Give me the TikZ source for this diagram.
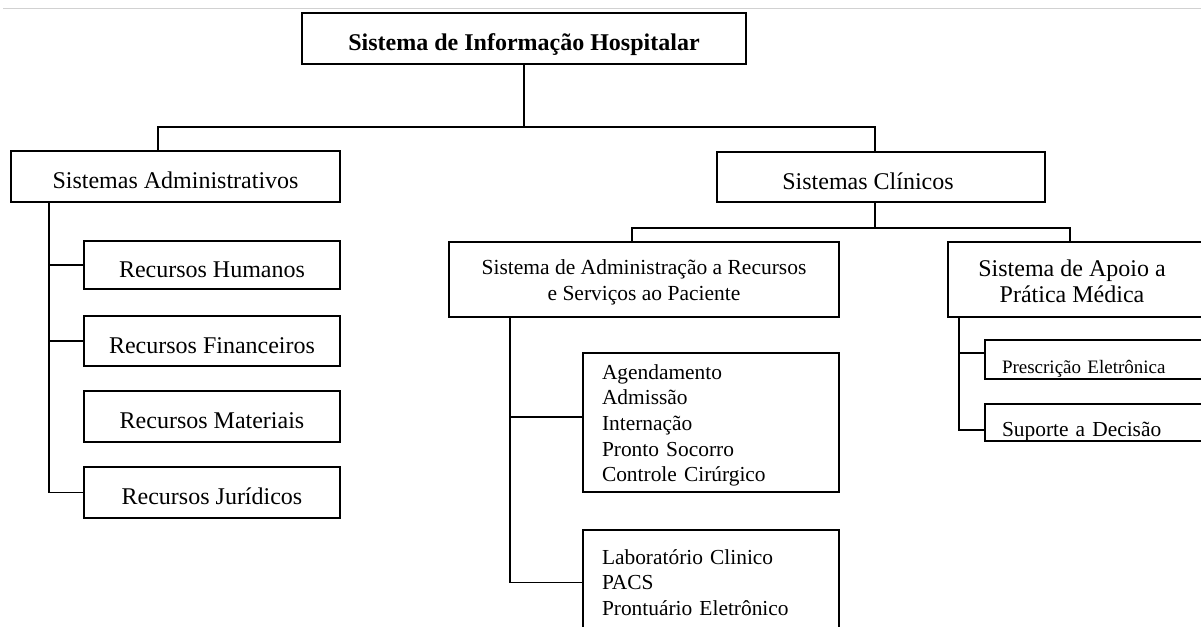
\documentclass[tikz,border=0pt]{standalone}
\usepackage{fontspec}
\setmainfont{Liberation Serif}
\begin{document}
\begin{tikzpicture}[x=1pt,y=-1pt,
  box/.style={draw, line width=1.8pt, inner sep=0pt, anchor=center},
  one/.style={font=\fontsize{24}{28}\selectfont, text height=24pt, text depth=0pt},
  onebold/.style={font=\bfseries\fontsize{24}{28}\selectfont, text height=24pt, text depth=0pt},
  two/.style={align=center},
  listbox/.style={align=left, inner xsep=19pt, text width=218pt, font=\fontsize{21.4}{25.6}\selectfont},
  leafbox/.style={align=left, inner xsep=17pt, text width=196pt, text depth=0pt},
  conn/.style={line width=1.8pt}]
\path[use as bounding box, fill=white] (0,0) rectangle (1201,626);
\clip (0,0) rectangle (1201,626);
\draw[black!18, line width=1pt] (3,9) -- (1201,9);
% nodes
\node[box, onebold, minimum width=444pt, minimum height=51pt] (top) at (524,38.5) {Sistema de Informação Hospitalar};
\node[box, one, minimum width=329pt, minimum height=51pt] (adm) at (175.5,176.5) {Sistemas Administrativos};
\node[box, one, minimum width=256pt, minimum height=48pt] (hum) at (212,265) {Recursos Humanos};
\node[box, one, minimum width=256pt, minimum height=50pt] (fin) at (212,341) {Recursos Financeiros};
\node[box, one, minimum width=256pt, minimum height=51pt] (mat) at (212,416.5) {Recursos Materiais};
\node[box, one, minimum width=256pt, minimum height=51pt] (jur) at (212,492.5) {Recursos Jurídicos};
\node[box, one, minimum width=328pt, minimum height=50pt] (clin) at (881,177) {\hspace{-26pt}Sistemas Clínicos};
\node[box, two, font=\fontsize{21.5}{26}\selectfont, minimum width=390pt, minimum height=75pt] (admrec) at (644,279.5) {\rule{0pt}{20.5pt}Sistema de Administração a Recursos\\e Serviços ao Paciente};
\node[box, two, font=\fontsize{24}{26}\selectfont, minimum width=256pt, minimum height=75pt] (apoio) at (1076,279.5) {\rule{0pt}{20.4pt}\hspace*{-8pt}Sistema de Apoio a\\\hspace*{-8pt}Prática Médica};
\node[box, listbox, minimum width=256pt, minimum height=139pt] (list) at (711,422.5) {\rule{0pt}{20.6pt}Agendamento\\Admissão\\Internação\\Pronto Socorro\\Controle Cirúrgico};
\node[box, listbox, minimum width=256pt, minimum height=105pt] (lab) at (711,582.5) {Laboratório Clinico\\PACS\\Prontuário Eletrônico};
\node[box, leafbox, font=\fontsize{19}{22}\selectfont, text height=28.6pt, minimum width=230pt, minimum height=39pt] (presc) at (1100,359.5) {Prescrição Eletrônica};
\node[box, leafbox, font=\fontsize{21.4}{24}\selectfont, text height=27pt, minimum width=230pt, minimum height=37pt] (sup) at (1100,422.5) {Suporte a Decisão};
% connectors
\coordinate (b1l) at (158,127);
\coordinate (b1r) at (875,127);
\draw[conn] (top.south) -- (top.south |- b1l);
\draw[conn] (b1l |- adm.north) -- (b1l) -- (b1r) -- (b1r |- clin.north);
\coordinate (b2) at (875,228);
\coordinate (b2l) at (632,228);
\coordinate (b2r) at (1070,228);
\draw[conn] (b2 |- clin.south) -- (b2);
\draw[conn] (b2l |- admrec.north) -- (b2l) -- (b2r) -- (b2r |- apoio.north);
\coordinate (sa) at (49,0);
\draw[conn] (sa |- adm.south) |- (jur.west);
\draw[conn] (sa |- hum.west) -- (hum.west);
\draw[conn] (sa |- fin.west) -- (fin.west);
\coordinate (sr) at (510,417);
\draw[conn] (sr |- admrec.south) |- (lab.west);
\draw[conn] (sr) -- (sr -| list.west);
\coordinate (sp1) at (959,353);
\coordinate (sp2) at (959,430);
\draw[conn] (sp1 |- apoio.south) -- (sp2) -- (sp2 -| sup.west);
\draw[conn] (sp1) -- (sp1 -| presc.west);
\end{tikzpicture}
\end{document}
